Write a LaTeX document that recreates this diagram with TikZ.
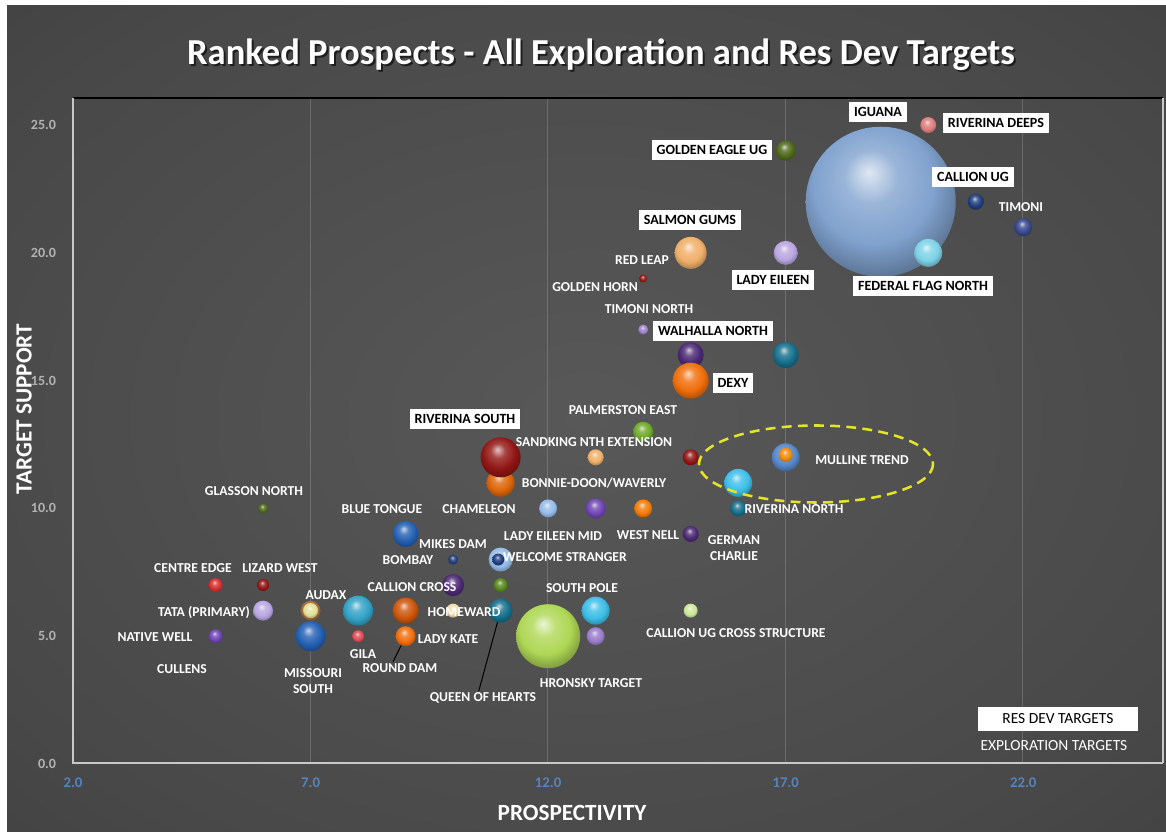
\documentclass[tikz,border=0pt]{standalone}
\usepackage{fontspec}
\setmainfont{Carlito}
\usepackage{xcolor}
\definecolor{bgdark}{RGB}{38,38,38}
\definecolor{bgedge}{RGB}{56,56,56}
\definecolor{bgmid}{RGB}{72,72,72}
\definecolor{bglight}{RGB}{88,88,88}
\definecolor{tickblue}{RGB}{84,132,192}
\definecolor{tickgray}{RGB}{178,178,178}
\definecolor{axisgray}{RGB}{200,200,200}
\definecolor{ringyellow}{RGB}{228,228,40}
% bubble colours
\definecolor{iguanablue}{RGB}{128,162,206}
\definecolor{deepspink}{RGB}{222,125,125}
\definecolor{eagleolive}{RGB}{78,105,25}
\definecolor{navy}{RGB}{30,60,125}
\definecolor{timoniblue}{RGB}{55,70,140}
\definecolor{flagcyan}{RGB}{125,210,230}
\definecolor{lavender}{RGB}{185,165,225}
\definecolor{peach}{RGB}{240,175,105}
\definecolor{darkred}{RGB}{145,22,20}
\definecolor{lilac}{RGB}{160,130,200}
\definecolor{plum}{RGB}{75,40,115}
\definecolor{teal}{RGB}{20,110,138}
\definecolor{dexyorange}{RGB}{240,110,10}
\definecolor{leafgreen}{RGB}{110,170,40}
\definecolor{skyblue}{RGB}{85,135,200}
\definecolor{cyan}{RGB}{60,190,232}
\definecolor{paleblue}{RGB}{150,188,232}
\definecolor{violet}{RGB}{110,68,180}
\definecolor{royalblue}{RGB}{35,95,178}
\definecolor{cream}{RGB}{240,220,170}
\definecolor{lime}{RGB}{175,215,85}
\definecolor{palegreen}{RGB}{205,230,155}
\definecolor{rust}{RGB}{205,85,10}
\definecolor{rosered}{RGB}{225,75,85}
\definecolor{brown}{RGB}{165,105,60}
\definecolor{straw}{RGB}{225,225,150}
\definecolor{brightred}{RGB}{215,45,45}
\colorlet{bubcolor}{gray}

\pgfdeclareradialshading{backdrop}{\pgfqpoint{0bp}{0bp}}{color(0bp)=(bglight); color(30bp)=(bgmid);
  color(50bp)=(bgedge); color(72bp)=(bgdark)}
\pgfdeclareradialshading[bubcolor]{bubble}{\pgfqpoint{-4bp}{10bp}}{color(0bp)=(bubcolor!25!white);
  color(9bp)=(bubcolor!80!white); color(20bp)=(bubcolor); color(30bp)=(bubcolor!70!black);
  color(50bp)=(bubcolor!70!black)}

\tikzset{
  bub/.style={circle, inner sep=0pt, outer sep=0pt, /utils/exec={\colorlet{bubcolor}{#1}}, shading=bubble},
  tagfont/.style={text=white, font=\bfseries\fontsize{9.7}{11.5}\selectfont, inner sep=1pt},
  tag/.style={tagfont, text height=6.2pt, text depth=0pt},
  boxtag/.style={fill=white, text=black, font=\bfseries\fontsize{10}{12}\selectfont,
    inner xsep=3.5pt, inner ysep=4.2pt, text height=6.5pt, text depth=0pt},
  lead/.style={black, line width=0.7pt},
  gridline/.style={gray!70, line width=0.5pt, opacity=0.35},
  axisline/.style={axisgray, line width=1.4pt}
}

\begin{document}
\begin{tikzpicture}[x=0.025cm, y=-0.025cm]
\useasboundingbox (0,0) rectangle (1166,832);
\fill[white] (0,0) rectangle (1166,832);
\shade[shading=backdrop] (7,6) rectangle (1166,832);

% title
\node[text=black, opacity=0.6, font=\bfseries\fontsize{26}{30}\selectfont, text height=16.7pt, text depth=0pt]
  (titleshadow) at (603,55) {Ranked Prospects - All Exploration and Res Dev Targets};
\node[text=white, font=\bfseries\fontsize{26}{30}\selectfont, text height=16.7pt, text depth=0pt]
  (title) at (601,53) {Ranked Prospects - All Exploration and Res Dev Targets};

% plot frame and grid
\foreach \gx in {310,547,785,1022}
  \draw[gridline] (\gx,99) -- (\gx,763);
\draw[black, line width=1.6pt] (73,98) -- (1163,98);
\draw[axisline] (1163,98) -- (1163,763);
\draw[axisline] (73,98) -- (73,763) -- (1163,763);

% axis titles
\node[rotate=90, text=white, font=\bfseries\fontsize{16.5}{18}\selectfont] (ytitle) at (24,409) {TARGET SUPPORT};
\node[text=white, font=\bfseries\fontsize{16.5}{18}\selectfont] (xtitle) at (572,813) {PROSPECTIVITY};

\begin{scope}[shift={(-22,764)}, x=1.1875cm, y=0.63875cm]
% tick labels
\foreach \v [count=\i] in {0.0,5.0,10.0,15.0,20.0,25.0}
  \node[anchor=east, text=tickgray, font=\bfseries\fontsize{10}{12}\selectfont] (ytick\i) at (2,\v) [xshift=-8.5pt] {\v};
\foreach \v [count=\i] in {2.0,7.0,12.0,17.0,22.0}
  \node[text=tickblue, font=\bfseries\fontsize{10.5}{12}\selectfont] (xtick\i) at (\v,0) [yshift=-13.5pt] {\v};

% bubbles
\node[bub=iguanablue, minimum size=3.75cm] (iguana) at (19,22) {};
\node[bub=deepspink, minimum size=0.4cm] (rivdeeps) at (20,25) {};
\node[bub=eagleolive, minimum size=0.5cm] (goldeneagle) at (17,24) {};
\node[bub=navy, minimum size=0.4cm] (callionug) at (21,22) {};
\node[bub=timoniblue, minimum size=0.45cm] (timoni) at (22,21) {};
\node[bub=flagcyan, minimum size=0.7cm] (fedflag) at (20,20) {};
\node[bub=lavender, minimum size=0.6cm] (ladyeileen) at (17,20) {};
\node[bub=peach, minimum size=0.8cm] (salmongums) at (15,20) {};
\node[bub=darkred, minimum size=0.2cm] (goldenhorn) at (14,19) {};
\node[bub=lilac, minimum size=0.25cm] (timoninorth) at (14,17) {};
\node[bub=plum, minimum size=0.65cm] (walhalla) at (15,16) {};
\node[bub=teal, minimum size=0.65cm] (tealone) at (17,16) {};
\node[bub=dexyorange, minimum size=0.9cm] (dexy) at (15,15) {};
\node[bub=leafgreen, minimum size=0.5cm] (palmerston) at (14,13) {};
\node[bub=peach, minimum size=0.4cm] (sandking) at (13,12) {};
\node[bub=darkred, minimum size=0.4cm] (redleap) at (15,12) {};
\node[bub=skyblue, minimum size=0.7cm] (mulline) at (17,12) {};
\node[bub=dexyorange!80!yellow, minimum size=0.35cm] (mullinecore) at (17,12.1) {};
\node[bub=cyan, minimum size=0.7cm] (cyanone) at (16,11) {};
\node[bub=teal, minimum size=0.4cm] (rivnorth) at (16,10) {};
\node[bub=dexyorange!92!black, minimum size=0.7cm] (bonniedoon) at (11,11) {};
\node[bub=darkred, minimum size=1.0cm] (rivsouth) at (11,12) {};
\node[bub=paleblue, minimum size=0.45cm] (chameleon) at (12,10) {};
\node[bub=violet, minimum size=0.5cm] (ladyeileenmid) at (13,10) {};
\node[bub=dexyorange!90!yellow, minimum size=0.45cm] (westnell) at (14,10) {};
\node[bub=plum, minimum size=0.4cm] (germancharlie) at (15,9) {};
\node[bub=paleblue, minimum size=0.6cm] (welcome) at (11,8) {};
\node[bub=navy, minimum size=0.3cm] (welcomecore) at (10.95,8) {};
\node[bub=navy, minimum size=0.25cm] (bombay) at (10,8) {};
\node[bub=royalblue, minimum size=0.65cm] (bluetongue) at (9,9) {};
\node[bub=plum, minimum size=0.55cm] (callioncross) at (10,7) {};
\node[bub=leafgreen!80!black, minimum size=0.35cm] (mikesdam) at (11,7) {};
\node[bub=cream, minimum size=0.35cm] (homeward) at (10,6) {};
\node[bub=teal, minimum size=0.6cm] (queen) at (11,6) {};
\node[bub=lime, minimum size=1.6cm] (hronsky) at (12,5) {};
\node[bub=cyan, minimum size=0.7cm] (southpole) at (13,6) {};
\node[bub=violet!70!white, minimum size=0.45cm] (purpletwo) at (13,5) {};
\node[bub=palegreen, minimum size=0.35cm] (ugcross) at (15,6) {};
\node[bub=rust, minimum size=0.65cm] (rustone) at (9,6) {};
\node[bub=dexyorange, minimum size=0.5cm] (ladykate) at (9,5) {};
\node[bub=rosered, minimum size=0.3cm] (gila) at (8,5) {};
\node[bub=cyan!85!black, minimum size=0.75cm] (cyantwo) at (8,6) {};
\node[bub=brown, minimum size=0.5cm] (audax) at (7,6) {};
\node[bub=straw, minimum size=0.38cm] (audaxcore) at (7,6) {};
\node[bub=royalblue, minimum size=0.75cm] (missouri) at (7,5) {};
\node[bub=lavender, minimum size=0.5cm] (tata) at (6,6) {};
\node[bub=darkred, minimum size=0.3cm] (lizardwest) at (6,7) {};
\node[bub=brightred, minimum size=0.35cm] (centreedge) at (5,7) {};
\node[bub=violet, minimum size=0.35cm] (nativewell) at (5,5) {};
\node[bub=eagleolive, minimum size=0.25cm] (glasson) at (6,10) {};
\end{scope}

% highlighted trend
\draw[ringyellow, line width=1.8pt, dash pattern=on 7pt off 4.5pt] (816,464) ellipse [x radius=117, y radius=38.5];

% plain labels
\node[tag] (timonitag) at (1021,207) {TIMONI};
\node[tag] (redleaptag) at (642,260) {RED LEAP};
\node[tag] (goldenhorntag) at (595,287) {GOLDEN HORN};
\node[tag] (timoninorthtag) at (649,309) {TIMONI NORTH};
\node[tag] (palmerstontag) at (623,410) {PALMERSTON EAST};
\node[tag] (sandkingtag) at (594,442) {SANDKING NTH EXTENSION};
\node[tag] (mullinetag) at (862,460) {MULLINE TREND};
\node[tag] (bonniedoontag) at (594,483) {BONNIE-DOON/WAVERLY};
\node[tag] (glassontag) at (254,491) {GLASSON NORTH};
\node[tag] (bluetonguetag) at (382,509) {BLUE TONGUE};
\node[tag] (chameleontag) at (479,509) {CHAMELEON};
\node[tag] (rivnorthtag) at (794,509) {RIVERINA NORTH};
\node[tag] (ladyeileenmidtag) at (553,536) {LADY EILEEN MID};
\node[tag] (westnelltag) at (648,535) {WEST NELL};
\node[tagfont, align=center] (germantag) at (734,548) {GERMAN\\CHARLIE};
\node[tag] (mikesdamtag) at (453,544) {MIKES DAM};
\node[tag] (bombaytag) at (408,560) {BOMBAY};
\node[tag] (welcometag) at (565,557) {WELCOME STRANGER};
\node[tag] (centreedgetag) at (193,568) {CENTRE EDGE};
\node[tag] (lizardwesttag) at (280,568) {LIZARD WEST};
\node[tag] (callioncrosstag) at (412,587) {CALLION CROSS};
\node[tag] (southpoletag) at (582,588) {SOUTH POLE};
\node[tag] (audaxtag) at (326,595) {AUDAX};
\node[tag] (tatatag) at (204,612) {TATA (PRIMARY)};
\node[tag] (homewardtag) at (464,612) {HOMEWARD};
\node[tag] (ugcrosstag) at (736,633) {CALLION UG CROSS STRUCTURE};
\node[tag] (nativewelltag) at (155,637) {NATIVE WELL};
\node[tag] (ladykatetag) at (448,639) {LADY KATE};
\node[tag] (gilatag) at (363,654) {GILA};
\node[tag] (rounddamtag) at (400,668) {ROUND DAM};
\node[tag] (cullenstag) at (182,669) {CULLENS};
\node[tagfont, align=center] (missouritag) at (313,681) {MISSOURI\\SOUTH};
\node[tag] (hronskytag) at (591,683) {HRONSKY TARGET};
\node[tag] (queentag) at (483,697) {QUEEN OF HEARTS};

% leaders
\draw[lead] ([xshift=-5pt]rounddamtag.north) -- (ladykate);
\draw[lead] ([xshift=-3pt]queentag.north) -- (queen);

% res dev labels
\node[boxtag] (iguanatag) at (878,112) {IGUANA};
\node[boxtag] (rivdeepstag) at (996,123) {RIVERINA DEEPS};
\node[boxtag] (goldeneagletag) at (712,150) {GOLDEN EAGLE UG};
\node[boxtag] (callionugtag) at (973,177) {CALLION UG};
\node[boxtag] (salmongumstag) at (690,220) {SALMON GUMS};
\node[boxtag] (ladyeileentag) at (773,280) {LADY EILEEN};
\node[boxtag] (fedflagtag) at (923,286) {FEDERAL FLAG NORTH};
\node[boxtag] (walhallatag) at (713,331) {WALHALLA NORTH};
\node[boxtag] (dexytag) at (733,383) {DEXY};
\node[boxtag] (rivsouthtag) at (465,419) {RIVERINA SOUTH};

% legend
\node[fill=white, text=black, font=\fontsize{11}{13}\selectfont, minimum width=4cm, minimum height=0.6cm, inner sep=0pt]
  (resdevkey) at (1058,719) {RES DEV TARGETS};
\node[text=white, font=\fontsize{11}{13}\selectfont] (explorekey) at (1054,746) {EXPLORATION TARGETS};
\end{tikzpicture}
\end{document}
